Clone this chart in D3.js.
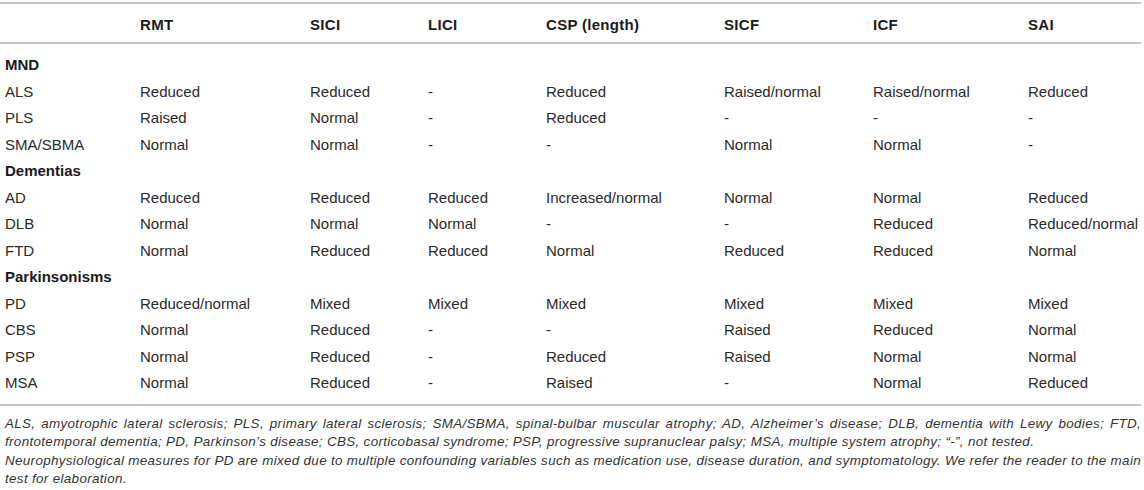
<!DOCTYPE html>
<html>
<head>
<meta charset="utf-8">
<script src="https://cdn.jsdelivr.net/npm/d3@7"></script>
<style>
  body { margin: 0; background: #fff; }
  svg { font-family: "Liberation Sans", Arial, Helvetica, sans-serif; }
</style>
</head>
<body>
<svg width="1144" height="490"></svg>
<script>
// column headers (first column has no header)
const columns = ["", "RMT", "SICI", "LICI", "CSP (length)", "SICF", "ICF", "SAI"];

// table body, group rows have only a label
const groups = ["MND", "Dementias", "Parkinsonisms"];
const rows = [
  ["MND"],
  ["ALS", "Reduced", "Reduced", "-", "Reduced", "Raised/normal", "Raised/normal", "Reduced"],
  ["PLS", "Raised", "Normal", "-", "Reduced", "-", "-", "-"],
  ["SMA/SBMA", "Normal", "Normal", "-", "-", "Normal", "Normal", "-"],
  ["Dementias"],
  ["AD", "Reduced", "Reduced", "Reduced", "Increased/normal", "Normal", "Normal", "Reduced"],
  ["DLB", "Normal", "Normal", "Normal", "-", "-", "Reduced", "Reduced/normal"],
  ["FTD", "Normal", "Reduced", "Reduced", "Normal", "Reduced", "Reduced", "Normal"],
  ["Parkinsonisms"],
  ["PD", "Reduced/normal", "Mixed", "Mixed", "Mixed", "Mixed", "Mixed", "Mixed"],
  ["CBS", "Normal", "Reduced", "-", "-", "Raised", "Reduced", "Normal"],
  ["PSP", "Normal", "Reduced", "-", "Reduced", "Raised", "Normal", "Normal"],
  ["MSA", "Normal", "Reduced", "-", "Raised", "-", "Normal", "Reduced"]
];

// footnote, split into printed lines; justified ones get stretched
const footLines = [
  "ALS, amyotrophic lateral sclerosis; PLS, primary lateral sclerosis; SMA/SBMA, spinal-bulbar muscular atrophy; AD, Alzheimer\u2019s disease; DLB, dementia with Lewy bodies; FTD,",
  "frontotemporal dementia; PD, Parkinson\u2019s disease; CBS, corticobasal syndrome; PSP, progressive supranuclear palsy; MSA, multiple system atrophy; \u201c-\u201d, not tested.",
  "Neurophysiological measures for PD are mixed due to multiple confounding variables such as medication use, disease duration, and symptomatology. We refer the reader to the main",
  "test for elaboration."
];
const footJustify = [true, false, true, false];

const svg = d3.select("svg");
const left = 5, right = 1141;

// column left edges
const colX = d3.scaleOrdinal()
  .domain(columns)
  .range([left, 140, 310, 428, 546, 724, 873, 1028]);

// row centres
const rowY = d3.scalePoint()
  .domain(d3.range(rows.length))
  .range([65, 383]);

// rules
const rules = [3, 43, 405];
svg.selectAll("line.rule")
  .data(rules)
  .enter()
  .append("line")
    .attr("class", "rule")
    .attr("x1", 0)
    .attr("x2", right)
    .attr("y1", d => d)
    .attr("y2", d => d)
    .attr("stroke", "#c4c4c4")
    .attr("stroke-width", 2);

// header
svg.selectAll("text.head")
  .data(columns.filter(c => c !== ""))
  .enter()
  .append("text")
    .attr("class", "head")
    .attr("x", d => colX(d))
    .attr("y", 25)
    .attr("dy", "0.36em")
    .attr("font-size", 15)
    .attr("font-weight", "bold")
    .attr("letter-spacing", 0.3)
    .attr("fill", "#1a1a1a")
    .text(d => d);

// body cells
const rowG = svg.selectAll("g.row")
  .data(rows)
  .enter()
  .append("g")
    .attr("class", "row")
    .attr("transform", (d, i) => `translate(0,${rowY(i)})`);

rowG.selectAll("text")
  .data(d => d.map((v, j) => ({ v: v, col: columns[j], group: groups.includes(d[0]) })))
  .enter()
  .append("text")
    .attr("x", d => colX(d.col))
    .attr("dy", "0.36em")
    .attr("font-size", 15)
    .attr("font-weight", d => d.group ? "bold" : "normal")
    .attr("fill", d => d.group ? "#1a1a1a" : "#2a2a2a")
    .text(d => d.v);

// footnote
const foot = svg.selectAll("text.foot")
  .data(footLines)
  .enter()
  .append("text")
    .attr("class", "foot")
    .attr("x", left)
    .attr("y", (d, i) => 423 + i * 18.4)
    .attr("dy", "0.36em")
    .attr("font-size", 13.4)
    .attr("letter-spacing", 0.34)
    .attr("font-style", "italic")
    .attr("fill", "#333")
    .text(d => d);

// stretch the justified lines with word spacing
foot.each(function(d, i) {
  if (!footJustify[i]) return;
  const w = this.getComputedTextLength();
  const gaps = d.split(" ").length - 1;
  d3.select(this).attr("word-spacing", ((right - left - w) / gaps) + "px");
});
</script>
</body>
</html>
